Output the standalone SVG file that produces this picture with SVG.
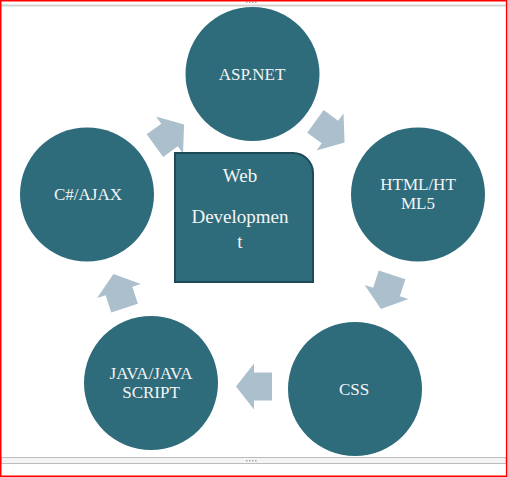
<svg xmlns="http://www.w3.org/2000/svg" width="508" height="477" viewBox="0 0 508 477">
<defs>
<style>
.c{fill:#2e6b7b}
.t{fill:#f5f5f5;font-family:"Liberation Serif","DejaVu Serif",serif;font-size:17px;text-anchor:middle}
.bt{font-size:19px}
.ar{fill:#acbfcc}
</style>
<path id="arr" d="M-18,-14 L0,-14 L0,-23 L18,0 L0,23 L0,14 L-18,14 Z"/>
</defs>
<rect x="0" y="0" width="508" height="477" fill="#ffffff"/>
<g id="frame">
<line x1="1" y1="5.5" x2="506" y2="5.5" stroke="#d2d2d2" stroke-width="2"/>
<rect x="1" y="457.5" width="505" height="6" fill="#f4f4f4" stroke="#bdbdbd" stroke-width="1"/>
<g fill="#a8a8a8">
<rect x="246" y="1.5" width="1.5" height="1.5"/><rect x="249" y="1.5" width="1.5" height="1.5"/><rect x="252" y="1.5" width="1.5" height="1.5"/><rect x="255" y="1.5" width="1.5" height="1.5"/>
<rect x="246" y="460" width="1.5" height="1.5"/><rect x="249" y="460" width="1.5" height="1.5"/><rect x="252" y="460" width="1.5" height="1.5"/><rect x="255" y="460" width="1.5" height="1.5"/>
</g>
<rect x="0.75" y="0.75" width="505.9" height="475.5" fill="none" stroke="#ff0000" stroke-width="1.5"/>
</g>
<g id="connectors">
<use href="#arr" class="ar" transform="translate(169.5,135) rotate(-36)"/>
<use href="#arr" class="ar" transform="translate(330,132) rotate(36)"/>
<use href="#arr" class="ar" transform="translate(386.5,292) rotate(108)"/>
<use href="#arr" class="ar" transform="translate(254,386.5) rotate(180)"/>
<use href="#arr" class="ar" transform="translate(119,291) rotate(252)"/>
</g>
<g id="center">
<path d="M175,153 H293 A20,20 0 0 1 313,173 V282 H175 Z" class="c" stroke="#1e4a57" stroke-width="2"/>
<text class="t bt" x="240" y="182">Web</text>
<text class="t bt" x="240" y="223">Developmen</text>
<text class="t bt" x="240" y="248">t</text>
</g>
<g id="asp">
<circle class="c" cx="252.5" cy="74" r="67"/>
<text class="t" x="252" y="80">ASP.NET</text>
</g>
<g id="html">
<circle class="c" cx="418" cy="194.5" r="67"/>
<text class="t" x="418" y="190">HTML/HT</text>
<text class="t" x="418" y="209">ML5</text>
</g>
<g id="css">
<circle class="c" cx="355" cy="389" r="67"/>
<text class="t" x="354" y="395">CSS</text>
</g>
<g id="java">
<circle class="c" cx="151" cy="383" r="67"/>
<text class="t" x="151" y="379">JAVA/JAVA</text>
<text class="t" x="151" y="398">SCRIPT</text>
</g>
<g id="csharp">
<circle class="c" cx="87" cy="194.5" r="67"/>
<text class="t" x="88" y="200">C#/AJAX</text>
</g>
</svg>
